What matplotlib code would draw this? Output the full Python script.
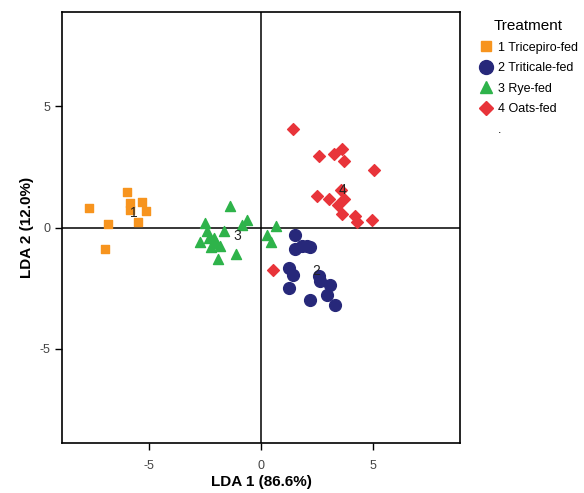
import matplotlib
matplotlib.use('Agg')
import matplotlib.pyplot as plt
from matplotlib.lines import Line2D

plt.rcParams['font.family'] = ['Liberation Sans', 'DejaVu Sans']
plt.rcParams['axes.unicode_minus'] = False

# LDA scores per treatment group
tricepiro_x = [-6.0, -5.85, -5.33, -5.85, -5.13, -7.68, -5.50, -6.84, -6.96]
tricepiro_y = [1.48, 1.02, 1.07, 0.74, 0.67, 0.80, 0.24, 0.17, -0.88]

triticale_x = [1.52, 1.52, 1.82, 2.04, 2.16, 1.26, 1.40, 1.26, 2.60, 2.63, 3.08, 2.93, 2.16, 3.30]
triticale_y = [-0.32, -0.88, -0.77, -0.77, -0.80, -1.67, -1.94, -2.49, -2.01, -2.22, -2.38, -2.77, -3.00, -3.21]

rye_x = [-1.38, -0.64, -0.86, -2.50, -2.42, -1.65, -2.35, -2.10, -2.72, -2.00, -2.25, -1.86, -1.13, -1.93, 0.67, 0.28, 0.43]
rye_y = [0.88, 0.33, 0.12, 0.19, -0.15, -0.15, -0.43, -0.43, -0.61, -0.63, -0.80, -0.74, -1.07, -1.29, 0.05, -0.30, -0.58]

oats_x = [1.44, 2.59, 3.26, 3.63, 3.71, 5.04, 3.56, 2.49, 3.05, 3.71, 3.44, 3.63, 4.21, 4.30, 4.96, 0.52]
oats_y = [4.08, 2.95, 3.02, 3.25, 2.74, 2.37, 1.57, 1.29, 1.19, 1.19, 0.92, 0.58, 0.50, 0.22, 0.30, -1.76]

# group centroid labels
centroid_labels = ['1', '2', '3', '4']
centroid_x = [-5.7, 2.46, -1.08, 3.65]
centroid_y = [0.62, -1.8, -0.36, 1.57]

group_names = ['1 Tricepiro-fed', '2 Triticale-fed', '3 Rye-fed', '4 Oats-fed']
colors = ['#F7941E', '#27287A', '#2EB34A', '#E8343A']

fig = plt.figure(figsize=(5.84, 4.93), dpi=100)
ax = fig.add_axes([0.106, 0.1008, 0.6825, 0.8749])

ax.scatter(tricepiro_x, tricepiro_y, marker='s', s=40, color=colors[0], zorder=3)
ax.scatter(triticale_x, triticale_y, marker='o', s=72, color=colors[1], zorder=3)
ax.scatter(rye_x, rye_y, marker='^', s=52, color=colors[2], zorder=3)
ax.scatter(oats_x, oats_y, marker='D', s=36, color=colors[3], zorder=3)

for lab, cx, cy in zip(centroid_labels, centroid_x, centroid_y):
    ax.text(cx, cy, lab, ha='center', va='center', fontsize=10, color='#222222', zorder=4)

ax.axhline(0, color='black', lw=1.1, zorder=1)
ax.axvline(0, color='black', lw=1.1, zorder=1)

ax.set_xlim(-8.9, 8.9)
ax.set_ylim(-8.9, 8.9)
ax.set_xticks([-5, 0, 5])
ax.set_yticks([-5, 0, 5])
ax.tick_params(direction='out', length=5, width=1, labelsize=9, labelcolor='#444444')
ax.tick_params(axis='x', pad=7)
for sp in ax.spines.values():
    sp.set_linewidth(1.2)

ax.set_xlabel('LDA 1 (86.6%)', fontsize=11, fontweight='bold', labelpad=2)
ax.set_ylabel('LDA 2 (12.0%)', fontsize=11, fontweight='bold', labelpad=4)

handles = [
    Line2D([], [], marker='s', ls='', color=colors[0], markersize=7),
    Line2D([], [], marker='o', ls='', color=colors[1], markersize=10),
    Line2D([], [], marker='^', ls='', color=colors[2], markersize=9),
    Line2D([], [], marker='D', ls='', color=colors[3], markersize=7),
    Line2D([], [], ls='', marker=''),
]
fig.legend(handles, group_names + ['.'], title='Treatment', loc='upper left',
           bbox_to_anchor=(0.8116, 0.971), frameon=False, fontsize=9,
           title_fontsize=11, handlelength=1.2, handletextpad=0.3,
           labelspacing=0.68, borderaxespad=0)

fig.savefig('out.png', dpi=100)
